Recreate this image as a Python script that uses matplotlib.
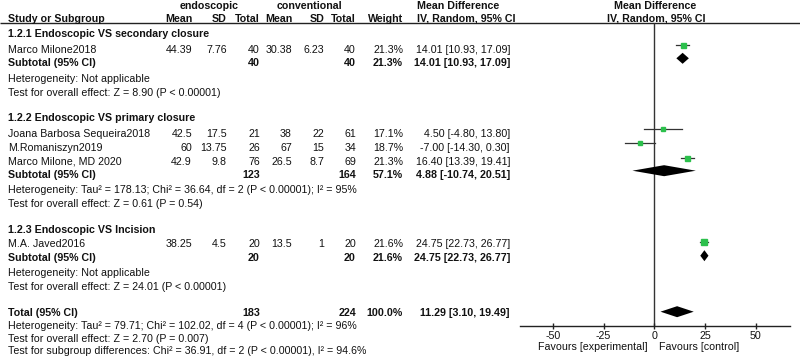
import matplotlib
matplotlib.use("Agg")
import matplotlib.pyplot as plt

plt.rcParams['font.family'] = ['Liberation Sans', 'DejaVu Sans']

# ---------------- data ----------------
studies = ["Marco Milone2018", "Joana Barbosa Sequeira2018", "M.Romaniszyn2019",
           "Marco Milone, MD 2020", "M.A. Javed2016"]
exp_mean = [44.39, 42.5, 60, 42.9, 38.25]
exp_sd = [7.76, 17.5, 13.75, 9.8, 4.5]
exp_n = [40, 21, 26, 76, 20]
ctl_mean = [30.38, 38, 67, 26.5, 13.5]
ctl_sd = [6.23, 22, 15, 8.7, 1]
ctl_n = [40, 61, 34, 69, 20]
weights = [21.3, 17.1, 18.7, 21.3, 21.6]
md = [14.01, 4.50, -7.00, 16.40, 24.75]
md_lo = [10.93, -4.80, -14.30, 13.39, 22.73]
md_hi = [17.09, 13.80, 0.30, 19.41, 26.77]

groups = ["1.2.1 Endoscopic VS secondary closure",
          "1.2.2 Endoscopic VS primary closure",
          "1.2.3 Endoscopic VS Incision"]
sub_exp_n = [40, 123, 20]
sub_ctl_n = [40, 164, 20]
sub_weight = [21.3, 57.1, 21.6]
sub_md = [14.01, 4.88, 24.75]
sub_lo = [10.93, -10.74, 22.73]
sub_hi = [17.09, 20.51, 26.77]
sub_het = ["Heterogeneity: Not applicable",
           "Heterogeneity: Tau² = 178.13; Chi² = 36.64, df = 2 (P < 0.00001); I² = 95%",
           "Heterogeneity: Not applicable"]
sub_test = ["Test for overall effect: Z = 8.90 (P < 0.00001)",
            "Test for overall effect: Z = 0.61 (P = 0.54)",
            "Test for overall effect: Z = 24.01 (P < 0.00001)"]

total_exp_n = 183
total_ctl_n = 224
total_weight = 100.0
total_md = 11.29
total_lo = 3.10
total_hi = 19.49
total_lines = ["Heterogeneity: Tau² = 79.71; Chi² = 102.02, df = 4 (P < 0.00001); I² = 96%",
               "Test for overall effect: Z = 2.70 (P = 0.007)",
               "Test for subgroup differences: Chi² = 36.91, df = 2 (P < 0.00001), I² = 94.6%"]

xticks = [-50, -25, 0, 25, 50]
fav_left = "Favours [experimental]"
fav_right = "Favours [control]"

# ---------------- layout (pixel rows) ----------------
W, H = 800, 361
FS = 7.7
GREEN = '#2cc04c'
TXT = '#111111'

group_header_y = [36.7, 121.0, 232.7]
study_y = [53.3, 136.7, 150.7, 165.0, 247.3]
study_mark_y = [44.6, 129.3, 143.3, 157.7, 242.3]
sub_y = [66.0, 177.7, 260.7]
sub_mark_y = [58.3, 170.7, 255.7]
het_y = [81.7, 193.3, 276.0]
test_y = [95.7, 207.3, 290.0]
total_y = 316.0
total_mark_y = 311.7
total_lines_y = [329.0, 342.3, 353.6]

col_name = 8
col_em, col_esd, col_en = 192, 227, 260
col_cm, col_csd, col_cn = 292, 324, 356
col_w = 403
col_ci = 510

fig = plt.figure(figsize=(W / 100, H / 100), dpi=100)
ax = fig.add_axes([0, 0, 1, 1])
ax.set_xlim(0, W)
ax.set_ylim(H, 0)
ax.axis('off')


def t(x, y, s, ha='left', bold=False):
    ax.text(x, y, s, ha=ha, va='baseline', fontsize=FS, color=TXT,
            fontweight='bold' if bold else 'normal')


def num(v):
    return f"{v:g}"


def ci(m, lo, hi):
    return f"{m:.2f} [{lo:.2f}, {hi:.2f}]"


# headers
t(209, 9, "endoscopic", ha='center', bold=True)
t(309, 9, "conventional", ha='center', bold=True)
t(col_name, 21.5, "Study or Subgroup", bold=True)
t(col_em, 21.5, "Mean", ha='right', bold=True)
t(col_esd, 21.5, "SD", ha='right', bold=True)
t(col_en, 21.5, "Total", ha='right', bold=True)
t(col_cm, 21.5, "Mean", ha='right', bold=True)
t(325, 21.5, "SD", ha='right', bold=True)
t(col_cn, 21.5, "Total", ha='right', bold=True)
t(col_w, 21.5, "Weight", ha='right', bold=True)
t(417, 9, "Mean Difference", bold=True)
t(417, 21.5, "IV, Random, 95% CI", bold=True)
t(655, 9, "Mean Difference", ha='center', bold=True)
t(656, 21.5, "IV, Random, 95% CI", ha='center', bold=True)
ax.plot([0, W], [23, 23], color='#222222', lw=1.0, solid_capstyle='butt')

# forest axes
x_left_px, x_right_px = 520, 790
zero_px, px_per_unit = 654.2, 2.028
ax_top, ax_bot = 23, 326
fax = fig.add_axes([x_left_px / W, (H - ax_bot) / H,
                    (x_right_px - x_left_px) / W, (ax_bot - ax_top) / H])
fax.set_xlim((x_left_px - zero_px) / px_per_unit, (x_right_px - zero_px) / px_per_unit)
fax.set_ylim(ax_bot, ax_top)
fax.patch.set_alpha(0)
for sp in ['top', 'left', 'right']:
    fax.spines[sp].set_visible(False)
fax.spines['bottom'].set_color('#222222')
fax.spines['bottom'].set_linewidth(1.0)
fax.set_yticks([])
fax.set_xticks(xticks)
fax.set_xticklabels([str(v) for v in xticks])
fax.tick_params(axis='x', direction='inout', length=4.3, width=1.0, color='#222222',
                labelsize=FS, pad=1.5, labelcolor=TXT)
fax.axvline(0, color='#333333', lw=1.0, zorder=1)

# studies
for i, name in enumerate(studies):
    y = study_y[i]
    t(col_name, y, name)
    t(col_em, y, num(exp_mean[i]), ha='right')
    t(col_esd, y, num(exp_sd[i]), ha='right')
    t(col_en, y, str(exp_n[i]), ha='right')
    t(col_cm, y, num(ctl_mean[i]), ha='right')
    t(col_csd, y, num(ctl_sd[i]), ha='right')
    t(col_cn, y, str(ctl_n[i]), ha='right')
    t(col_w, y, f"{weights[i]:.1f}%", ha='right')
    t(col_ci, y, ci(md[i], md_lo[i], md_hi[i]), ha='right')
    my = study_mark_y[i]
    fax.plot([md_lo[i], md_hi[i]], [my, my], color='#333333', lw=0.9, zorder=2,
             clip_on=False)
    fax.plot([md[i]], [my], marker='s', ms=3.6 * (weights[i] / 21.3) ** 0.5,
             color=GREEN, mec=GREEN, zorder=3, clip_on=False)

# subgroups
for g, name in enumerate(groups):
    t(col_name, group_header_y[g], name, bold=True)
    y = sub_y[g]
    t(col_name, y, "Subtotal (95% CI)", bold=True)
    t(col_en, y, str(sub_exp_n[g]), ha='right', bold=True)
    t(col_cn, y, str(sub_ctl_n[g]), ha='right', bold=True)
    t(col_w, y, f"{sub_weight[g]:.1f}%", ha='right', bold=True)
    t(col_ci, y, ci(sub_md[g], sub_lo[g], sub_hi[g]), ha='right', bold=True)
    t(col_name, het_y[g], sub_het[g])
    t(col_name, test_y[g], sub_test[g])
    my = sub_mark_y[g]
    h = 5.5
    fax.fill([sub_lo[g], sub_md[g], sub_hi[g], sub_md[g]],
             [my, my - h, my, my + h], color='black', lw=0, zorder=4, clip_on=False)

# total
t(col_name, total_y, "Total (95% CI)", bold=True)
t(col_en, total_y, str(total_exp_n), ha='right', bold=True)
t(col_cn, total_y, str(total_ctl_n), ha='right', bold=True)
t(col_w, total_y, f"{total_weight:.1f}%", ha='right', bold=True)
t(col_ci, total_y, ci(total_md, total_lo, total_hi), ha='right', bold=True)
for s, y in zip(total_lines, total_lines_y):
    t(col_name, y, s)
h = 5.5
fax.fill([total_lo, total_md, total_hi, total_md],
         [total_mark_y, total_mark_y - h, total_mark_y, total_mark_y + h],
         color='black', lw=0, zorder=4, clip_on=False)

# favours labels
t(648, 350.5, fav_left, ha='right')
t(659, 350.5, fav_right, ha='left')

fig.savefig("out.png", dpi=100)
